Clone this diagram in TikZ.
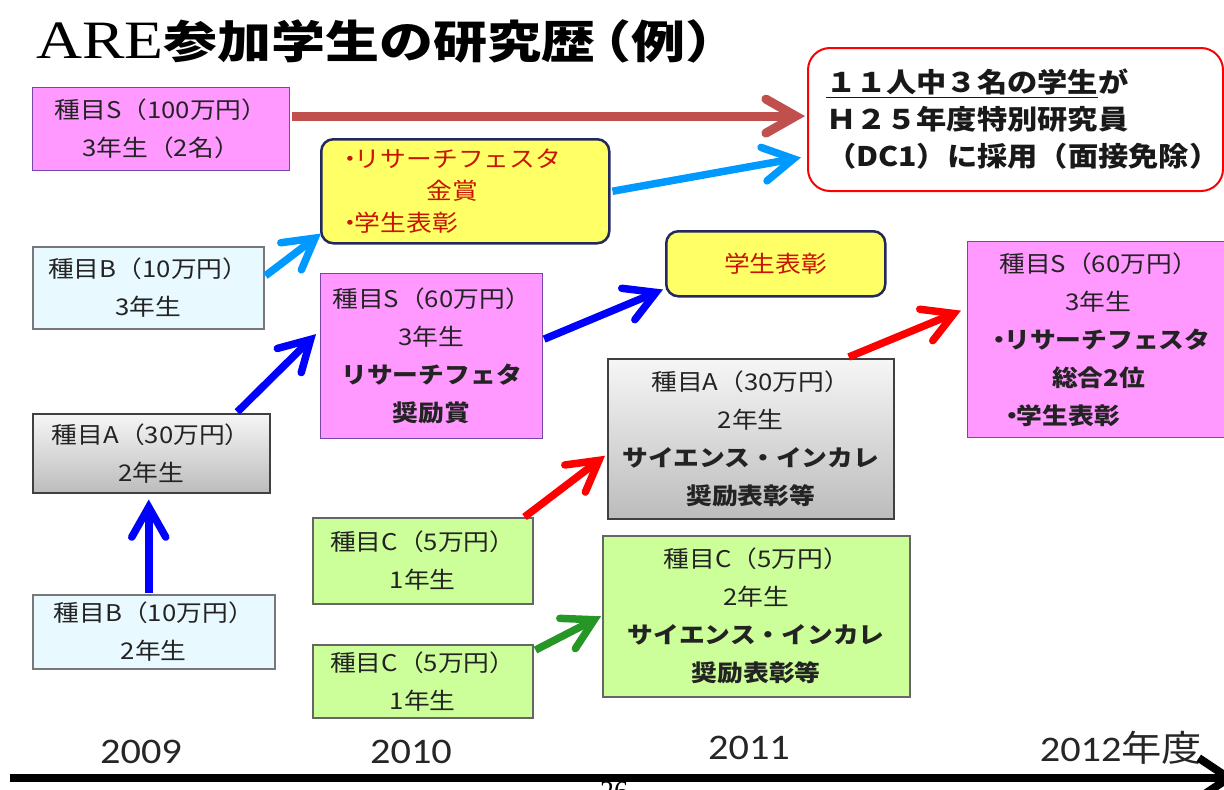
\documentclass[tikz,border=0pt]{standalone}
\usepackage{fontspec}
\setmainfont{Noto Sans CJK JP}[FakeStretch=1.12]
\newfontfamily\titlejp{Noto Sans CJK JP}[FakeStretch=1.2]
\newfontfamily\latserif{Liberation Serif}
\newfontfamily\yearfont{Carlito}[FakeStretch=1.12]
\usetikzlibrary{arrows.meta,calc}
\newcommand\mybul{・\kern-0.35em}

\definecolor{pinkfill}{RGB}{255,153,255}
\definecolor{pinkdraw}{RGB}{120,70,170}
\definecolor{cyanfill}{RGB}{232,250,255}
\definecolor{boxgray}{RGB}{120,120,120}
\definecolor{graytop}{RGB}{246,246,246}
\definecolor{graybot}{RGB}{188,188,188}
\definecolor{greenfill}{RGB}{204,255,153}
\definecolor{yellowfill}{RGB}{255,255,102}
\definecolor{navy}{RGB}{35,40,95}
\definecolor{awardred}{RGB}{200,20,0}
\definecolor{brownred}{RGB}{192,80,77}
\definecolor{skyblue}{RGB}{0,153,255}
\definecolor{pureblue}{RGB}{0,0,255}
\definecolor{purered}{RGB}{255,0,0}
\definecolor{arrowgreen}{RGB}{38,150,38}
\definecolor{textdark}{RGB}{35,35,35}

\begin{document}
\begin{tikzpicture}[x=1pt,y=-1pt,
  box/.style={anchor=north west, inner sep=0pt, align=center,
    font=\fontsize{23}{38}\selectfont, text=textdark},
  pinkbox/.style={box, fill=pinkfill, draw=pinkdraw, line width=1.2pt},
  cyanbox/.style={box, fill=cyanfill, draw=boxgray, line width=1.5pt},
  graybox/.style={box, top color=graytop, bottom color=graybot, draw=black!75, line width=1.5pt},
  greenbox/.style={box, fill=greenfill, draw=black!60, line width=1.5pt},
  yellowbox/.style={box, fill=yellowfill, draw=navy, line width=2.5pt,
    rounded corners=12pt, text=awardred, font=\fontsize{23}{32}\selectfont},
  arr/.style={line width=7.5pt,
    -{Straight Barb[length=30pt,width=34pt,line cap=round,line join=miter]}},
  yearlabel/.style={font=\yearfont\fontsize{36}{36}\selectfont, text=black!85},
]
\useasboundingbox (0,0) rectangle (1224,790);
\clip (0,0) rectangle (1224,790);

% title
\node[anchor=west, inner sep=0pt, font=\titlejp\fontsize{45}{50}\selectfont] (title) at (36,41)
  {{\latserif\fontsize{54}{56}\selectfont\scalebox{1.18}[1]{ARE}}\bfseries 参加学生の研究歴\kern-0.4em（例）};

% boxes
\node[pinkbox, minimum width=257, minimum height=83] (s100) at (32,87)
  {種目S（100万円）\\3年生（2名）};
\node[yellowbox, align=left, text width=256pt, inner xsep=16pt, minimum height=104] (gold) at (320,138)
  {\mybul リサーチフェスタ\\\hspace*{3.9em}金賞\\\mybul 学生表彰};
\node[anchor=north west, draw=purered, line width=2pt, rounded corners=22pt, fill=white,
  minimum width=415, minimum height=143, text width=379pt, inner xsep=18pt, inner ysep=0pt,
  align=left, font=\fontsize{27}{37}\selectfont\bfseries, text=black!90] (dc) at (807,47)
  {\underline{１１人中３名の学生}が\\Ｈ２５年度特別研究員\\（DC1）に採用（面接免除）};
\node[cyanbox, minimum width=231, minimum height=82] (b3) at (32,246)
  {種目B（10万円）\\3年生};
\node[pinkbox, minimum width=222, minimum height=165] (s60a) at (320,273)
  {種目S（60万円）\\3年生\\\textbf{リサーチフェタ}\\\textbf{奨励賞}};
\node[yellowbox, minimum width=219, minimum height=65] (award2) at (665,230)
  {学生表彰};
\node[pinkbox, minimum width=262, minimum height=196] (s60b) at (967,241)
  {種目S（60万円）\\3年生\\\textbf{\mybul リサーチフェスタ}\\\textbf{総合2位}\\\makebox[8.65em][l]{\bfseries\mybul 学生表彰}};
\node[graybox, minimum width=237, minimum height=79] (a2) at (32,413)
  {種目A（30万円）\\2年生};
\node[graybox, minimum width=286, minimum height=160] (a3) at (607,358)
  {種目A（30万円）\\2年生\\\textbf{サイエンス・インカレ}\\\textbf{奨励表彰等}};
\node[cyanbox, minimum width=242, minimum height=74] (b2) at (32,594)
  {種目B（10万円）\\2年生};
\node[greenbox, minimum width=220, minimum height=86] (c1u) at (312,517)
  {種目C（5万円）\\1年生};
\node[greenbox, minimum width=220, minimum height=73] (c1l) at (312,644)
  {種目C（5万円）\\1年生};
\node[greenbox, minimum width=307, minimum height=161] (c2) at (602,535)
  {種目C（5万円）\\2年生\\\textbf{サイエンス・インカレ}\\\textbf{奨励表彰等}};

% arrows
\draw[arr, brownred, line width=9pt] ($(s100.east)+(2,-13)$) -- ($(s100.east -| dc.west)+(-2,-13)$);
\draw[arr, skyblue] ($(b3.east)+(1,-12)$) -- ($(gold.south west)+(1,-11)$);
\draw[arr, skyblue] ($(gold.east)+(2,0)$) -- ($(dc.west)+(-6,38)$);
\draw[arr, pureblue] ($(a2.north)+(86,-1)$) -- ($(s60a.west)+(-4,-22)$);
\draw[arr, pureblue] ($(s60a.east)+(1,-17)$) -- ($(award2.south west)+(-2,-8)$);
\draw[arr, pureblue] ($(b2.north)+(-5,-1)$) -- ($(b2.north |- a2.south)+(-5,6)$);
\draw[arr, purered] ($(c1u.north east)+(-9,0)$) -- ($(a3.west)+(-2,17)$);
\draw[arr, purered] ($(a3.north)+(98,-1)$) -- ($(s60b.west)+(-6,-29)$);
\draw[arr, arrowgreen] ($(c1l.north east)+(2,6)$) -- ($(c2.west)+(-1,0)$);

% years
\node[yearlabel] (y09) at (141,752) {2009};
\node[yearlabel] (y10) at (411,752) {2010};
\node[yearlabel] (y11) at (749,748) {2011};
\node[yearlabel] (y12) at (1121,748) {2012{\rmfamily 年度}};

% time axis
\coordinate (axs) at (10,778);
\coordinate (axe) at (1236,778);
\draw[line width=8pt, -{Straight Barb[length=30pt,width=40pt,line join=miter]}] (axs) -- (axe);

% page number (cut off by the lower edge, as in the reference)
\node[anchor=north, inner sep=0pt, font=\latserif\fontsize{28}{28}\selectfont] (pg) at (614,782) {26};
\end{tikzpicture}
\end{document}
